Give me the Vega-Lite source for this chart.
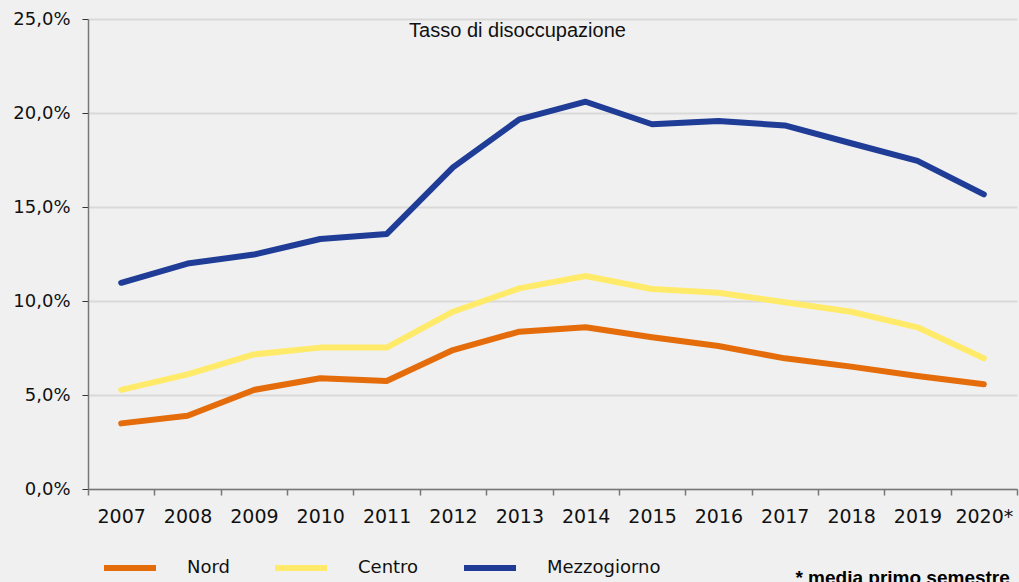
{
  "$schema": "https://vega.github.io/schema/vega-lite/v6.json",
  "autosize": "none",
  "width": 929,
  "height": 470,
  "padding": {"left": 88, "top": 19, "right": 2, "bottom": 93},
  "background": "#f0f0f0",
  "title": {
    "text": "Tasso di disoccupazione",
    "anchor": "middle",
    "frame": "group",
    "dx": -35,
    "offset": -31,
    "font": "Liberation Sans",
    "fontSize": 20,
    "fontWeight": "normal",
    "color": "#111111"
  },
  "config": {
    "view": {"stroke": null},
    "locale": {
      "number": {"decimal": ",", "thousands": ".", "grouping": [3], "currency": ["€", ""]}
    }
  },
  "layer": [
    {
      "data": {
        "values": [
          {"anno": "2007", "area": "Nord", "tasso": 0.0349},
          {"anno": "2008", "area": "Nord", "tasso": 0.0390},
          {"anno": "2009", "area": "Nord", "tasso": 0.0527},
          {"anno": "2010", "area": "Nord", "tasso": 0.0589},
          {"anno": "2011", "area": "Nord", "tasso": 0.0574},
          {"anno": "2012", "area": "Nord", "tasso": 0.0739},
          {"anno": "2013", "area": "Nord", "tasso": 0.0837},
          {"anno": "2014", "area": "Nord", "tasso": 0.0860},
          {"anno": "2015", "area": "Nord", "tasso": 0.0807},
          {"anno": "2016", "area": "Nord", "tasso": 0.0761},
          {"anno": "2017", "area": "Nord", "tasso": 0.0695},
          {"anno": "2018", "area": "Nord", "tasso": 0.0651},
          {"anno": "2019", "area": "Nord", "tasso": 0.0601},
          {"anno": "2020*", "area": "Nord", "tasso": 0.0557},
          {"anno": "2007", "area": "Centro", "tasso": 0.0527},
          {"anno": "2008", "area": "Centro", "tasso": 0.0610},
          {"anno": "2009", "area": "Centro", "tasso": 0.0716},
          {"anno": "2010", "area": "Centro", "tasso": 0.0752},
          {"anno": "2011", "area": "Centro", "tasso": 0.0752},
          {"anno": "2012", "area": "Centro", "tasso": 0.0943},
          {"anno": "2013", "area": "Centro", "tasso": 0.1067},
          {"anno": "2014", "area": "Centro", "tasso": 0.1133},
          {"anno": "2015", "area": "Centro", "tasso": 0.1064},
          {"anno": "2016", "area": "Centro", "tasso": 0.1044},
          {"anno": "2017", "area": "Centro", "tasso": 0.0993},
          {"anno": "2018", "area": "Centro", "tasso": 0.0943},
          {"anno": "2019", "area": "Centro", "tasso": 0.0860},
          {"anno": "2020*", "area": "Centro", "tasso": 0.0695},
          {"anno": "2007", "area": "Mezzogiorno", "tasso": 0.1097},
          {"anno": "2008", "area": "Mezzogiorno", "tasso": 0.1199},
          {"anno": "2009", "area": "Mezzogiorno", "tasso": 0.1247},
          {"anno": "2010", "area": "Mezzogiorno", "tasso": 0.1330},
          {"anno": "2011", "area": "Mezzogiorno", "tasso": 0.1356},
          {"anno": "2012", "area": "Mezzogiorno", "tasso": 0.1711},
          {"anno": "2013", "area": "Mezzogiorno", "tasso": 0.1966},
          {"anno": "2014", "area": "Mezzogiorno", "tasso": 0.2060},
          {"anno": "2015", "area": "Mezzogiorno", "tasso": 0.1940},
          {"anno": "2016", "area": "Mezzogiorno", "tasso": 0.1957},
          {"anno": "2017", "area": "Mezzogiorno", "tasso": 0.1934},
          {"anno": "2018", "area": "Mezzogiorno", "tasso": 0.1839},
          {"anno": "2019", "area": "Mezzogiorno", "tasso": 0.1745},
          {"anno": "2020*", "area": "Mezzogiorno", "tasso": 0.1567}
        ]
      },
      "mark": {"type": "line", "strokeWidth": 6, "strokeCap": "round", "strokeJoin": "round"},
      "encoding": {
        "x": {
          "field": "anno",
          "type": "ordinal",
          "sort": null,
          "scale": {"type": "band", "paddingInner": 0, "paddingOuter": 0},
          "axis": {
            "title": null,
            "labelAngle": 0,
            "tickBand": "extent",
            "domainColor": "#777777",
            "domainWidth": 1.5,
            "tickColor": "#777777",
            "tickWidth": 1.5,
            "tickSize": 6,
            "labelPadding": 12,
            "labelFont": "DejaVu Sans",
            "labelFontSize": 19,
            "labelColor": "#111111",
            "grid": false
          }
        },
        "y": {
          "field": "tasso",
          "type": "quantitative",
          "scale": {"domain": [0, 0.25], "nice": false},
          "axis": {
            "title": null,
            "format": ".1%",
            "values": [0, 0.05, 0.1, 0.15, 0.2, 0.25],
            "domainColor": "#777777",
            "domainWidth": 1.5,
            "tickColor": "#333333",
            "tickWidth": 1,
            "tickSize": 6,
            "labelPadding": 12,
            "labelFont": "DejaVu Sans",
            "labelFontSize": 18,
            "labelColor": "#111111",
            "gridColor": "#d9d9d9",
            "gridWidth": 2
          }
        },
        "color": {
          "field": "area",
          "type": "nominal",
          "scale": {
            "domain": ["Nord", "Centro", "Mezzogiorno"],
            "range": ["#e46c0a", "#ffea6a", "#1f3c96"]
          },
          "legend": {
            "title": null,
            "orient": "none",
            "legendX": 13,
            "legendY": 520,
            "direction": "horizontal",
            "columns": 3,
            "symbolType": "stroke",
            "symbolSize": 2704,
            "symbolStrokeWidth": 6,
            "labelOffset": 28,
            "columnPadding": 33,
            "labelFont": "DejaVu Sans",
            "labelFontSize": 18,
            "labelColor": "#111111"
          }
        }
      }
    },
    {
      "data": {"values": [{"nota": "* media primo semestre"}]},
      "mark": {
        "type": "text",
        "font": "Liberation Sans",
        "fontSize": 19,
        "fontWeight": "bold",
        "align": "right",
        "baseline": "alphabetic",
        "dx": 26,
        "color": "#000000"
      },
      "encoding": {
        "text": {"field": "nota"},
        "x": {"datum": "2020*"},
        "y": {"datum": -0.0505}
      }
    }
  ]
}
